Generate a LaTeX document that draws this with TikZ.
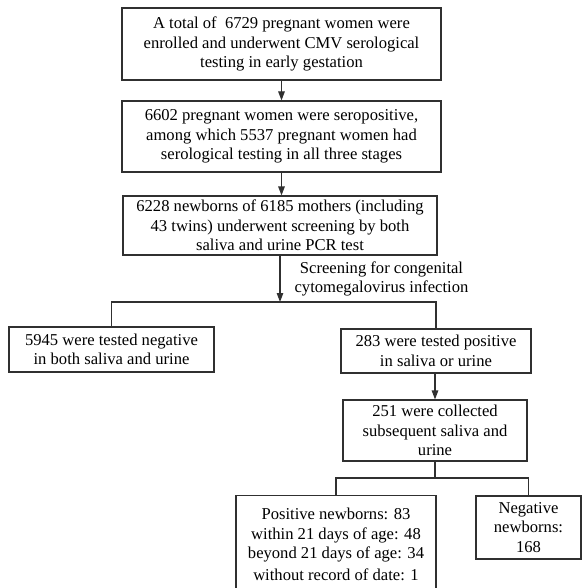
\documentclass[tikz,border=0pt]{standalone}
\usepackage{fontspec}
\setmainfont{Liberation Serif}
\usepackage{tikz}
\usetikzlibrary{
  arrows.meta,
  positioning,
  calc
}
\definecolor{fcLine}{HTML}{303030}
\tikzset{
  fcbox/.style={
    draw=fcLine, line width=1.1pt, minimum width=#1, align=center,
    inner sep=0pt, font=\fontsize{16.6}{19.5}\selectfont
  },
  fcarrow/.style={-{Triangle[length=9pt, width=6.5pt]}, line width=1.1pt, fcLine},
  fcline/.style={line width=1.1pt, fcLine},
  fctag/.style={font=\fontsize{16.6}{19.5}\selectfont, align=center, inner sep=0pt}
}

\begin{document}
\begin{tikzpicture}[x=1pt, y=-1pt]
  \useasboundingbox (0,0) rectangle (582,588);
  \clip (0,0) rectangle (582,588);
  % main column
  \node[fcbox=319pt, minimum height=72pt] (total) at (281.5,44)
    {A total of~ 6729 pregnant women were\\enrolled and underwent CMV serological\\testing in early gestation};
  \node[fcbox=319pt, minimum height=71pt] (seropos) at (281.5,136.5)
    {6602 pregnant women were seropositive,\\among which 5537 pregnant women had\\serological testing in all three stages};
  \node[fcbox=314pt, minimum height=59pt] (newborns) at (280,225.5)
    {6228 newborns of 6185 mothers (including\\43 twins) underwent screening by both\\saliva and urine PCR test};
  \coordinate (split) at (280,302);
  \node[fctag] (screen) at (381.5,279)
    {Screening for congenital\\cytomegalovirus infection};
  % two branches
  \node[fcbox=205pt, minimum height=45pt] (negative) at (111.5,349.5)
    {5945 were tested negative\\in both saliva and urine};
  \node[fcbox=190pt, minimum height=44pt] (positive) at (436,351)
    {283 were tested positive\\in saliva or urine};
  \node[fcbox=184pt, minimum height=61pt] (collected) at (435,430.5)
    {251 were collected\\subsequent saliva and\\urine};
  \coordinate (split2) at (435,478);
  \node[fcbox=200pt, minimum height=98pt, anchor=north] (posnb) at (336,495)
    {Positive newborns: 83\\within 21 days of age: 48\\beyond 21 days of age: 34\\[2.5pt]without record of date: 1};
  \node[fcbox=105pt, minimum height=63pt] (negnb) at (528.5,527.5)
    {Negative\\newborns:\\168};
  % connectors
  \draw[fcarrow] (total.south) -- (seropos.north);
  \draw[fcarrow] (seropos.south) -- (seropos.south |- newborns.north);
  \draw[fcarrow] (newborns.south) -- (split);
  \draw[fcline] (negative.north) |- (split) -| (positive.north);
  \draw[fcarrow] (collected.north |- positive.south) -- (collected.north);
  \draw[fcline] (collected.south) -- (split2);
  \draw[fcline] (posnb.north) |- (split2) -| (negnb.north);
\end{tikzpicture}
\end{document}
